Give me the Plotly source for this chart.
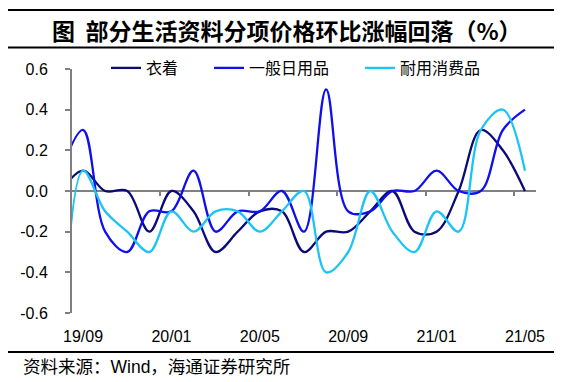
import plotly.graph_objects as go

# ---------------- data ----------------
months = ["19/08", "19/09", "19/10", "19/11", "19/12", "20/01", "20/02", "20/03", "20/04",
          "20/05", "20/06", "20/07", "20/08", "20/09", "20/10", "20/11", "20/12",
          "21/01", "21/02", "21/03", "21/04", "21/05"]
clothing = [0.0, 0.1, 0.0, 0.0, -0.2, 0.0, -0.1, -0.3, -0.2, -0.1, -0.1, -0.3,
            -0.2, -0.2, -0.1, 0.0, -0.2, -0.2, 0.0, 0.3, 0.2, 0.0]
daily_goods = [0.1, 0.3, -0.2, -0.3, -0.1, -0.1, 0.1, -0.2, -0.1, -0.1, 0.0, -0.2,
               0.5, -0.1, -0.1, 0.0, 0.0, 0.1, 0.0, 0.0, 0.3, 0.4]
durables = [-1.0, 0.1, -0.1, -0.2, -0.3, -0.1, -0.2, -0.1, -0.1, -0.2, -0.1, 0.0,
            -0.4, -0.3, 0.0, -0.2, -0.3, -0.1, -0.2, 0.3, 0.4, 0.1]
series_names = ["衣着", "一般日用品", "耐用消费品"]
series_colors = ["#0A0A78", "#1010EE", "#1CC4F6"]

x_labels = ["19/09", "20/01", "20/05", "20/09", "21/01", "21/05"]
y_ticks = [-0.6, -0.4, -0.2, 0.0, 0.2, 0.4, 0.6]
y_labels = ["-0.6", "-0.4", "-0.2", "0.0", "0.2", "0.4", "0.6"]
title_text = "图  部分生活资料分项价格环比涨幅回落（%）"
source_text = "资料来源：Wind，海通证券研究所"

# ---------------- layout geometry ----------------
# page body has an 8px margin, so the figure is drawn 8px right/down
OFF = 8
W_FIG, H_FIG = 571 - OFF, 382 - OFF
L, R, T, B = 72 - OFF, 536 - OFF, 69 - OFF, 313 - OFF
PW, PH = R - L, B - T


def px(x):
    return (x - OFF - L) / PW


def py(y):
    return (B - (y - OFF)) / PH


CJK = "Noto Sans CJK SC"
LAT = "Liberation Sans, Arial, Noto Sans CJK SC"

fig = go.Figure()
legends = ["legend", "legend2", "legend3"]
for name, vals, col, lg in zip(series_names, [clothing, daily_goods, durables], series_colors, legends):
    fig.add_trace(go.Scatter(
        x=months, y=vals, name=name, mode="lines",
        line=dict(color=col, width=2.3, shape="spline", smoothing=1.0),
        legend=lg, hoverinfo="skip"))

# invisible trace to carry the zero-line axis
fig.add_trace(go.Scatter(x=[None], y=[None], xaxis="x2", showlegend=False, hoverinfo="skip"))

n = len(months)
boundaries = [i + 0.5 for i in range(4, n - 1, 4)]

legend_common = dict(orientation="h", yanchor="middle", xanchor="left",
                     font=dict(family=CJK, size=16, color="black"),
                     bgcolor="rgba(0,0,0,0)", borderwidth=0)

fig.update_layout(
    width=W_FIG, height=H_FIG,
    margin=dict(l=L, r=W_FIG - R, t=T, b=H_FIG - B),
    paper_bgcolor="white", plot_bgcolor="white",
    xaxis=dict(type="category", categoryorder="array", categoryarray=months,
               range=[0.5, n - 0.5], tickvals=x_labels, ticktext=x_labels,
               ticks="", showline=False, showgrid=False, zeroline=False,
               tickfont=dict(family=LAT, size=16, color="black"),
               ticklabelstandoff=12),
    xaxis2=dict(overlaying="x", anchor="free", position=0.5, range=[0.5, n - 0.5],
                tickvals=boundaries, showticklabels=False, ticks="outside",
                ticklen=4, tickwidth=1.5, tickcolor="#808080",
                showline=True, linecolor="#808080", linewidth=1.8,
                showgrid=False, zeroline=False, layer="below traces"),
    yaxis=dict(range=[-0.6, 0.6], tickvals=y_ticks, ticktext=y_labels,
               ticks="outside", ticklen=5, tickwidth=1.5, tickcolor="#808080",
               showline=True, linecolor="#808080", linewidth=2,
               showgrid=False, zeroline=False, layer="below traces",
               tickfont=dict(family=LAT, size=16, color="black"),
               ticklabelstandoff=14),
    legend=dict(x=px(106), y=py(68), **legend_common),
    legend2=dict(x=px(209), y=py(68), **legend_common),
    legend3=dict(x=px(360), y=py(68), **legend_common),
    showlegend=True,
)

# title and source
fig.add_annotation(text="<b>" + title_text + "</b>", xref="paper", yref="paper",
                   x=px(50), y=py(30), xanchor="left", yanchor="middle", showarrow=False,
                   font=dict(family=CJK, size=23, color="black"))
fig.add_annotation(text=source_text, xref="paper", yref="paper",
                   x=px(21), y=py(367), xanchor="left", yanchor="middle", showarrow=False,
                   font=dict(family=LAT, size=17.5, color="black"))

# rule lines
for yy in [10, 47.5, 352]:
    fig.add_shape(type="line", xref="paper", yref="paper",
                  x0=px(8), x1=px(554), y0=py(yy), y1=py(yy),
                  line=dict(color="black", width=2))

fig.write_html("out.html")
